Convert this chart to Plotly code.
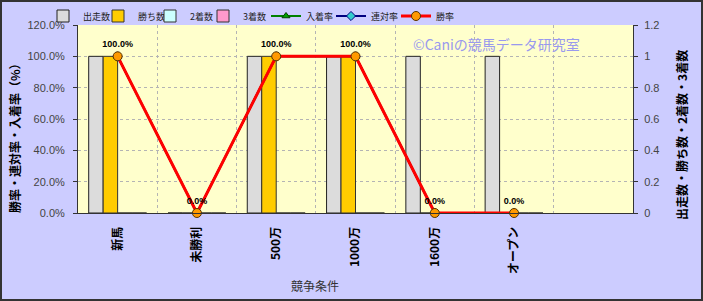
import plotly.graph_objects as go

categories = ["新馬", "未勝利", "500万", "1000万", "1600万", "オープン"]
starts = [1, 0, 1, 1, 1, 1]          # 出走数
wins = [1, 0, 1, 1, 0, 0]            # 勝ち数
seconds = [0, 0, 0, 0, 0, 0]         # 2着数
thirds = [0, 0, 0, 0, 0, 0]          # 3着数
place_rate = [100, 0, 100, 100, 0, 0]    # 入着率
quinella_rate = [100, 0, 100, 100, 0, 0] # 連対率
win_rate = [100, 0, 100, 100, 0, 0]      # 勝率

W, H = 703, 301
L, R, T, B = 78, 70, 25, 88
pw, ph = W - L - R, H - T - B

def px(x):
    return (x - L) / pw

def py(y):
    return (H - B - y) / ph

NUM_FONT = "Liberation Sans, Noto Sans CJK JP, sans-serif"
JP_FONT = "Noto Sans CJK JP, sans-serif"

# legend entry spacing (px) after each item
legend_widths = [10, 7, 8, 18, 20, 20, 20]

fig = go.Figure()

bar_specs = [
    ("出走数", starts, "#DCDCDC", "#222222"),
    ("勝ち数", wins, "#FFCC00", "#333333"),
    ("2着数", seconds, "#CCFFFF", "#333333"),
    ("3着数", thirds, "#FF99CC", "#333333"),
]
for i, (name, vals, fill, line) in enumerate(bar_specs):
    fig.add_trace(go.Bar(
        x=categories, y=vals, name=name, yaxis="y",
        legendwidth=legend_widths[i],
        marker=dict(color=fill, line=dict(color=line, width=1)),
    ))

fig.add_trace(go.Scatter(
    x=categories, y=place_rate, name="入着率", yaxis="y2", mode="lines+markers",
    legendwidth=legend_widths[4],
    line=dict(color="#008000", width=2),
    marker=dict(symbol="triangle-up", size=7, color="#00A000", line=dict(color="#004000", width=1)),
))
fig.add_trace(go.Scatter(
    x=categories, y=quinella_rate, name="連対率", yaxis="y2", mode="lines+markers",
    legendwidth=legend_widths[5],
    line=dict(color="#000080", width=2),
    marker=dict(symbol="diamond", size=7, color="#33CCCC", line=dict(color="#000080", width=1)),
))
fig.add_trace(go.Scatter(
    x=categories, y=win_rate, name="勝率", yaxis="y2", mode="lines+markers+text",
    legendwidth=legend_widths[6],
    line=dict(color="#FF0000", width=3),
    marker=dict(symbol="circle", size=9, color="#FF9900", line=dict(color="#553300", width=1)),
    text=[f"{v:.1f}%" for v in win_rate], textposition="top center",
    textfont=dict(family=NUM_FONT, size=9, color="#000000", weight="bold"),
    cliponaxis=False,
))

GRID = "#B4B4B4"

fig.update_layout(
    width=W, height=H,
    margin=dict(l=L, r=R, t=T, b=B, autoexpand=False),
    paper_bgcolor="#CCCCFF", plot_bgcolor="#FFFFCC",
    barmode="group", bargap=0.27, bargroupgap=0,
    showlegend=True,
    legend=dict(orientation="h", xref="container", yref="container",
                x=43 / W, y=1 - 16 / H, xanchor="left", yanchor="middle",
                bgcolor="rgba(0,0,0,0)", font=dict(family=JP_FONT, size=9, color="#222222"),
                itemwidth=30, traceorder="normal"),
    xaxis=dict(
        range=[-0.5, 6.5], type="category", tickson="boundaries",
        showgrid=True, gridcolor=GRID, griddash="dot", gridwidth=1,
        showline=True, linecolor="#333333", linewidth=1,
        ticks="", ticklabelstandoff=8,
        tickangle=-90, tickfont=dict(family=JP_FONT, size=12, color="#000000", weight="bold"),
        zeroline=False,
    ),
    yaxis=dict(
        side="right", range=[0, 1.2], dtick=0.2,
        showgrid=False, zeroline=False,
        showline=True, linecolor="#333333", linewidth=1,
        ticks="outside", ticklen=4, tickcolor="#333333", ticklabelstandoff=4,
        tickfont=dict(family=NUM_FONT, size=11, color="#444444"),
    ),
    yaxis2=dict(
        side="left", overlaying="y", range=[0, 120], dtick=20,
        tickformat=".1f", ticksuffix="%",
        showgrid=True, gridcolor=GRID, griddash="dot", gridwidth=1,
        zeroline=False,
        showline=True, linecolor="#333333", linewidth=1,
        ticks="outside", ticklen=4, tickcolor="#333333", ticklabelstandoff=6,
        tickfont=dict(family=NUM_FONT, size=11, color="#444444"),
    ),
    annotations=[
        dict(text="©Caniの競馬データ研究室", xref="paper", yref="paper",
             x=px(496), y=py(44), xanchor="center", yanchor="middle", showarrow=False,
             font=dict(family=JP_FONT, size=14, color="#9999EE")),
        dict(text="競争条件", xref="paper", yref="paper",
             x=px(315), y=py(285), xanchor="center", yanchor="middle", showarrow=False,
             font=dict(family=JP_FONT, size=12, color="#333333")),
        dict(text="勝率・連対率・入着率（%）", xref="paper", yref="paper",
             x=px(14), y=py(135), xanchor="center", yanchor="middle", showarrow=False, textangle=-90,
             font=dict(family=JP_FONT, size=12, color="#000000", weight="bold")),
        dict(text="出走数・勝ち数・2着数・3着数", xref="paper", yref="paper",
             x=px(681), y=py(135), xanchor="center", yanchor="middle", showarrow=False, textangle=-90,
             font=dict(family=JP_FONT, size=12, color="#000000", weight="bold")),
    ],
    shapes=[
        dict(type="rect", xref="paper", yref="paper",
             x0=px(1), x1=px(W - 1), y0=py(H - 1), y1=py(1),
             line=dict(color="#333333", width=2), fillcolor="rgba(0,0,0,0)", layer="above"),
    ],
)

fig.write_html("out.html")
